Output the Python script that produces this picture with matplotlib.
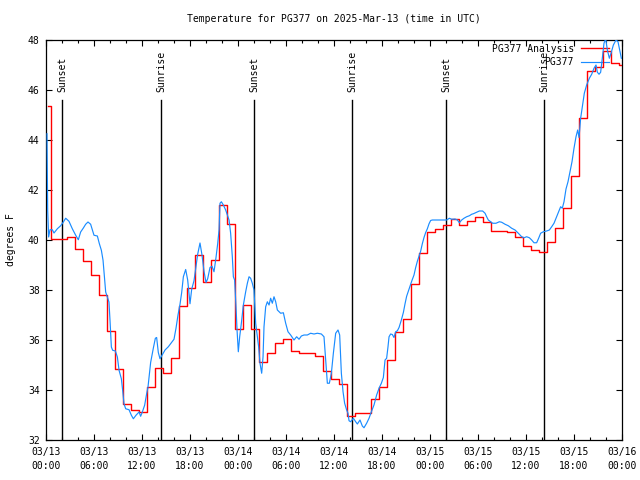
import matplotlib
matplotlib.use("Agg")
import matplotlib.pyplot as plt
import matplotlib.transforms as mtransforms
import pandas as pd

plt.rcParams['font.family'] = ['DejaVu Sans Mono']
plt.rcParams['font.size'] = 7

title = "Temperature for PG377 on 2025-Mar-13 (time in UTC)"
ylabel = "degrees F"
x_start = "2025-03-13 00:00"
x_end = "2025-03-16 00:00"

# --- PG377 Analysis (hourly, drawn as steps) ---
analysis_first_time = "2025-03-13 00:15"
analysis_hourly_start = "2025-03-13 00:36"
analysis_temps = [
    45.35,
    40.05, 40.05, 40.10, 39.62, 39.15, 38.60, 37.78, 36.35, 34.83, 33.43,
    33.19, 33.13, 34.11, 34.86, 34.67, 35.27, 37.37, 38.07, 39.40, 38.33,
    39.20, 41.40, 40.64, 36.43, 37.39, 36.43, 35.10, 35.47, 35.86, 36.03,
    35.55, 35.49, 35.47, 35.36, 34.75, 34.44, 34.24, 32.98, 33.07, 33.07,
    33.63, 34.11, 35.20, 36.31, 36.84, 38.25, 39.48, 40.32, 40.44, 40.60,
    40.83, 40.60, 40.77, 40.91, 40.72, 40.37, 40.35, 40.32, 40.11, 39.76,
    39.60, 39.53, 39.90, 40.47, 41.27, 42.58, 44.88, 46.76, 46.90, 47.55,
    47.07, 47.00, 47.00,
]

# --- PG377 observations (hours after 03/13 00:00, degrees F) ---
obs_hours = [
    0.125, 0.21, 0.33, 0.5, 0.79, 1.0, 1.42, 1.83, 2.17, 2.46, 2.87, 3.29, 3.71,
    4.04, 4.33, 4.67, 4.96, 5.25, 5.58, 6.0, 6.42, 6.67, 6.92, 7.13, 7.25, 7.46,
    7.67, 7.87, 8.0, 8.17, 8.33, 8.67, 8.92, 9.13, 9.42, 9.58, 9.75, 9.96, 10.38,
    10.67, 10.92, 11.25, 11.63, 11.83, 12.04, 12.33, 12.58, 12.75,
    13.08, 13.42, 13.67, 13.83, 14.04, 14.25, 14.58, 14.88, 15.29, 15.71, 16.0,
    16.25, 16.5, 16.75, 16.96, 17.17, 17.46, 17.71, 18.0, 18.21, 18.5, 18.75,
    18.96, 19.25, 19.5, 19.75, 20.0, 20.21, 20.5, 20.75, 21.0, 21.25, 21.46,
    21.63, 21.75, 21.92, 22.17, 22.46, 22.67, 22.88, 23.08, 23.29, 23.42, 23.58,
    23.75, 23.88, 24.04, 24.21, 24.42, 24.67, 24.96, 25.17, 25.38, 25.58, 25.79,
    26.0, 26.21, 26.42, 26.58, 26.75, 26.96, 27.13, 27.25, 27.46, 27.67, 27.88,
    28.08, 28.29, 28.5, 28.71, 28.92, 29.33, 29.67, 29.96, 30.25, 30.58, 31.0,
    31.33, 31.63, 31.92, 32.25, 32.67, 33.08, 33.5, 33.92, 34.42, 34.75, 34.96,
    35.17, 35.42, 35.67, 35.92, 36.21, 36.5, 36.71, 36.92, 37.13, 37.33, 37.58,
    37.75, 37.88, 38.08, 38.42, 38.71, 38.92, 39.25, 39.54, 39.75, 40.08, 40.38,
    40.67, 41.0, 41.33, 41.63, 41.92, 42.17, 42.38, 42.58, 42.75, 42.88, 43.08,
    43.29, 43.5, 43.71, 43.92, 44.13, 44.42, 44.67, 44.88, 45.08, 45.29, 45.46,
    45.71, 46.0, 46.21, 46.42, 46.63, 46.83, 47.04, 47.25, 47.46, 47.67, 47.88,
    48.08, 48.29, 49.75, 50.08, 50.42, 50.71, 51.13, 51.42, 51.67, 51.96, 52.25,
    52.58, 52.92, 53.21, 53.42, 53.83, 54.17, 54.58, 54.88, 55.08, 55.29, 55.58,
    55.83, 56.25, 56.67, 56.96, 57.38, 57.79, 58.21, 58.63, 59.04, 59.46, 59.75,
    60.08, 60.42, 60.71, 61.0, 61.33, 61.58, 61.83, 62.17, 62.58, 62.92, 63.21,
    63.5, 63.83, 64.13, 64.33, 64.54, 64.75, 65.0, 65.25, 65.5, 65.75, 66.0,
    66.25, 66.46, 66.63, 66.83, 67.08, 67.29, 67.58, 67.92, 68.21, 68.5, 68.75,
    68.92, 69.13, 69.33, 69.54, 69.75, 69.96, 70.17, 70.42, 70.63, 70.92, 71.25,
    71.5, 71.75, 71.92,
]
obs_temps = [
    44.25, 41.19, 40.12, 40.41, 40.41, 40.28, 40.45, 40.57, 40.72, 40.87, 40.75, 40.45, 40.19,
    40.01, 40.32, 40.48, 40.63, 40.72, 40.63, 40.19, 40.16, 39.85, 39.59, 39.19, 38.72, 37.92,
    37.72, 37.52, 36.79, 35.72, 35.59, 35.56, 35.32, 34.79, 34.45, 33.99, 33.45, 33.25, 33.21,
    32.99, 32.85, 32.99, 33.12, 32.95, 33.12, 33.39, 33.85, 34.12,
    35.10, 35.68, 36.07, 36.10, 35.50, 35.25, 35.43, 35.60, 35.73, 35.91, 36.03,
    36.47, 37.00, 37.43, 37.90, 38.53, 38.82, 38.40, 37.45, 38.03, 38.37, 38.95,
    39.43, 39.88, 39.40, 38.75, 38.30, 38.45, 38.90, 38.95, 38.73, 39.30, 39.85,
    40.40, 41.47, 41.53, 41.40, 41.20, 41.00, 40.80, 40.27, 39.33, 38.53, 38.40,
    37.33, 36.40, 35.53, 36.13, 36.67, 37.40, 37.93, 38.27, 38.53, 38.47, 38.27,
    38.00, 36.67, 36.13, 35.73, 35.07, 34.67, 35.33, 36.53, 37.33, 37.53, 37.40,
    37.67, 37.47, 37.73, 37.53, 37.20, 37.07, 37.09, 36.67, 36.33, 36.20, 36.00,
    36.13, 36.03, 36.16, 36.20, 36.20, 36.27, 36.24, 36.27, 36.24, 36.13, 35.20,
    34.27, 34.27, 34.67, 35.47, 36.27, 36.40, 36.20, 34.67, 33.93, 33.47, 33.20,
    33.07, 32.77, 32.73, 32.87, 32.73, 32.64, 32.80, 32.56, 32.49, 32.67, 32.87,
    33.13, 33.40, 33.80, 34.07, 34.27, 34.50, 35.20, 35.27, 35.73, 36.13, 36.24,
    36.22, 36.10, 36.33, 36.37, 36.50, 36.80, 37.10, 37.45, 37.75, 37.95, 38.10,
    38.35, 38.60, 38.90, 39.15, 39.35, 39.55, 39.85, 40.10, 40.30, 40.45, 40.65,
    40.78, 40.80, 40.80, 40.80, 40.87, 40.83, 40.84, 40.80, 40.69, 40.80, 40.87,
    40.93, 40.97, 41.03, 41.05, 41.11, 41.16, 41.16, 41.07, 40.93, 40.80, 40.73,
    40.67, 40.67, 40.73, 40.71, 40.63, 40.57, 40.47, 40.40, 40.27, 40.13, 40.09,
    40.13, 40.09, 40.00, 39.89, 39.89, 40.07, 40.27, 40.33, 40.36, 40.40, 40.53,
    40.67, 40.93, 41.16, 41.33, 41.27, 41.53, 42.04, 42.33, 42.73, 43.13, 43.67,
    44.13, 44.40, 44.10, 44.87, 45.40, 45.87, 46.20, 46.47, 46.63, 46.87, 47.00,
    46.71, 46.63, 46.71, 47.27, 47.87, 48.05, 47.60, 47.27, 47.47, 47.80, 48.00,
    47.93, 47.53, 47.27,
]

sun_labels = ["Sunset", "Sunrise", "Sunset", "Sunrise", "Sunset", "Sunrise"]
sun_times = ["2025-03-13 02:02", "2025-03-13 14:24", "2025-03-14 02:02",
             "2025-03-14 14:18", "2025-03-15 02:02", "2025-03-15 14:17"]

y_ticks = [32, 34, 36, 38, 40, 42, 44, 46, 48]

# ---------------------------------------------------------------
t0 = pd.Timestamp(x_start)
t1 = pd.Timestamp(x_end)
a_times = [pd.Timestamp(analysis_first_time)] + list(
    pd.date_range(analysis_hourly_start, periods=len(analysis_temps) - 1, freq="h"))
o_times = [t0 + pd.Timedelta(hours=h) for h in obs_hours]

fig = plt.figure(figsize=(6.4, 4.8), dpi=100)
ax = fig.add_axes([46 / 640, 40 / 480, 576 / 640, 400 / 480])

ax.step(a_times, analysis_temps, where="post", color="#ff0000", lw=1.0,
        label="PG377 Analysis", zorder=3)
ax.plot(o_times, obs_temps, color="#1a8cff", lw=0.85, label="PG377", zorder=4)

blend = mtransforms.blended_transform_factory(ax.transData, ax.transAxes)
for lab, ts in zip(sun_labels, sun_times):
    t = pd.Timestamp(ts)
    ax.axvline(t, ymin=0, ymax=0.85, color="black", lw=1.0, zorder=2)
    ax.text(t, 0.87, lab, transform=blend, rotation=90, ha="center",
            va="bottom", fontsize=7)

ax.set_xlim(t0, t1)
ax.set_ylim(32, 48)

major = pd.date_range(t0, t1, freq="6h")
minor = pd.date_range(t0, t1, freq="2h")
ax.set_xticks(list(major), [d.strftime("%m/%d\n%H:%M") for d in major])
ax.set_xticks(list(minor), minor=True)
for lbl in ax.get_xticklabels():
    lbl.set_linespacing(1.5)
ax.set_yticks(y_ticks, [str(v) for v in y_ticks])

ax.tick_params(axis="both", which="major", direction="in", top=True,
               right=True, length=4.5, width=0.8, labelsize=7)
ax.tick_params(axis="x", which="major", pad=5)
ax.tick_params(axis="y", which="major", pad=4.5)
ax.tick_params(axis="x", which="minor", direction="in", top=True,
               length=2.5, width=0.8)
for s in ax.spines.values():
    s.set_linewidth(0.9)
    s.set_color("black")

leg = ax.legend(loc="upper right", bbox_to_anchor=(0.985, 1.0), frameon=False,
                markerfirst=False, handlelength=2.95, handletextpad=0.7,
                labelspacing=0.35, borderaxespad=0, fontsize=7)
leg.set_zorder(1)

fig.text(334 / 640, 1 - 19 / 480, title, ha="center", va="center", fontsize=7)
fig.text(11 / 640, 0.5, ylabel, rotation=90, ha="center", va="center", fontsize=7)

fig.savefig("out.png", dpi=100)
